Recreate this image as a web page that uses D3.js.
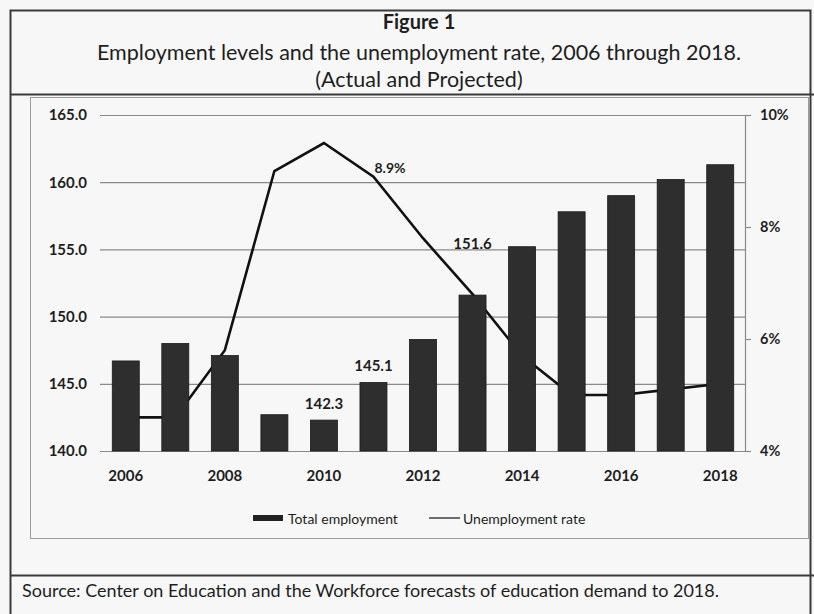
<!DOCTYPE html>
<html>
<head>
<meta charset="utf-8">
<script src="https://cdn.jsdelivr.net/npm/d3@7"></script>
<style>
  html, body { margin: 0; padding: 0; background: #f7f7f7; }
  svg { display: block; }
  text { font-family: Lato, "Open Sans", sans-serif; fill: #1e1e1e; }
</style>
</head>
<body>
<svg id="chart" width="814" height="614"></svg>
<script>
// Years on the category axis
const years = [2006, 2007, 2008, 2009, 2010, 2011, 2012, 2013, 2014, 2015, 2016, 2017, 2018];
// Total employment, millions (left axis)
const employment = [146.7, 148.0, 147.1, 142.7, 142.3, 145.1, 148.3, 151.6, 155.2, 157.8, 159.0, 160.2, 161.3];
// Unemployment rate, percent (right axis)
const unemployment = [4.6, 4.6, 5.8, 9.0, 9.5, 8.9, 7.8, 6.8, 5.7, 5.0, 5.0, 5.1, 5.2];
// Axis ticks
const leftTicks = [140, 145, 150, 155, 160, 165];
const rightTicks = [4, 6, 8, 10];
const yearLabels = [2006, 2008, 2010, 2012, 2014, 2016, 2018];
// Values called out on the chart
const barCallouts = [2010, 2011, 2013];
const rateCallouts = [2011];

const titleLines = [
  "Figure 1",
  "Employment levels and the unemployment rate, 2006 through 2018.",
  "(Actual and Projected)"
];
const sourceText = "Source: Center on Education and the Workforce forecasts of education demand to 2018.";

const svg = d3.select("#chart");

// Frames: outer figure box, title divider, inner chart area, source divider
const frame = svg.append("g").attr("fill", "none");
frame.append("rect").attr("x", 10.5).attr("y", 10.5).attr("width", 800).attr("height", 620)
  .attr("stroke", "#3a3a3a").attr("stroke-width", 2);
frame.append("line").attr("x1", 10).attr("x2", 814).attr("y1", 94.5).attr("y2", 94.5)
  .attr("stroke", "#3a3a3a").attr("stroke-width", 2);
frame.append("rect").attr("x", 30.5).attr("y", 97.5).attr("width", 778).attr("height", 441)
  .attr("stroke", "#9a9a9a").attr("stroke-width", 1);
frame.append("line").attr("x1", 10).attr("x2", 814).attr("y1", 575.5).attr("y2", 575.5)
  .attr("stroke", "#3a3a3a").attr("stroke-width", 2);

// Title block
const titleY = [21, 52, 79];
const titleSize = [20, 21.5, 21.5];
svg.append("g").selectAll("text").data(titleLines).join("text")
  .attr("x", 419).attr("y", (d, i) => titleY[i])
  .attr("text-anchor", "middle").attr("dominant-baseline", "central")
  .attr("font-size", (d, i) => titleSize[i]).attr("font-weight", (d, i) => i === 0 ? 700 : 400)
  .text(d => d);

// Scales
const x = d3.scaleBand().domain(years).range([101, 745]).paddingInner(0.455).paddingOuter(0.2275);
const yL = d3.scaleLinear().domain([140, 165]).range([451, 115]);
const yR = d3.scaleLinear().domain([4, 10]).range([451, 115]);
const cx = d => x(d) + x.bandwidth() / 2;

// Left axis with gridlines
const left = svg.append("g").attr("transform", "translate(101,0)")
  .call(d3.axisLeft(yL).tickValues(leftTicks).tickFormat(d3.format(".1f"))
    .tickSize(-644).tickPadding(14));
left.select(".domain").remove();
left.selectAll(".tick line").attr("stroke", "#8a8a8a").attr("stroke-width", 1.2)
  .attr("x1", -1);
left.selectAll(".tick text").attr("font-size", 15).attr("font-weight", 700)
  .attr("font-family", "Lato, sans-serif").attr("fill", "#1e1e1e");

// Right axis
const right = svg.append("g").attr("transform", "translate(745,0)")
  .call(d3.axisRight(yR).tickValues(rightTicks).tickFormat(d => d + "%")
    .tickSize(6).tickSizeOuter(0).tickPadding(9));
right.select(".domain").attr("stroke", "#8a8a8a").attr("stroke-width", 1.2);
right.selectAll(".tick line").attr("stroke", "#8a8a8a").attr("stroke-width", 1.2);
right.selectAll(".tick text").attr("font-size", 14.5).attr("font-weight", 700)
  .attr("font-family", "Lato, sans-serif").attr("fill", "#2a2a2a");

// Bottom axis (labels only, every other year)
const bottom = svg.append("g").attr("transform", "translate(0,451)")
  .call(d3.axisBottom(x).tickValues(yearLabels).tickSize(0).tickPadding(19));
bottom.select(".domain").remove();
bottom.selectAll(".tick text").attr("font-size", 15).attr("font-weight", 700)
  .attr("font-family", "Lato, sans-serif").attr("fill", "#1e1e1e");

// Unemployment rate line (behind the bars)
const rateLine = d3.line().x((d, i) => cx(years[i])).y(d => yR(d));
svg.append("path").datum(unemployment)
  .attr("d", rateLine).attr("fill", "none")
  .attr("stroke", "#111").attr("stroke-width", 2.6).attr("stroke-linejoin", "miter");

// Employment bars
svg.append("g").selectAll("rect").data(employment).join("rect")
  .attr("x", (d, i) => x(years[i]))
  .attr("y", d => yL(d))
  .attr("width", x.bandwidth())
  .attr("height", d => yL(140) - yL(d))
  .attr("fill", "#2e2e2e").attr("stroke", "#1a1a1a").attr("stroke-width", 0.8);

// Employment value labels
const barLift = { 2010: 17, 2011: 17, 2013: 52 };
svg.append("g").selectAll("text").data(barCallouts).join("text")
  .attr("x", d => cx(d))
  .attr("y", d => yL(employment[years.indexOf(d)]) - barLift[d])
  .attr("text-anchor", "middle").attr("dominant-baseline", "central")
  .attr("font-size", 15).attr("font-weight", 700)
  .text(d => employment[years.indexOf(d)].toFixed(1));

// Unemployment rate label
svg.append("g").selectAll("text").data(rateCallouts).join("text")
  .attr("x", d => cx(d) + 1)
  .attr("y", d => yR(unemployment[years.indexOf(d)]) - 9)
  .attr("text-anchor", "start").attr("dominant-baseline", "central")
  .attr("font-size", 14).attr("font-weight", 700)
  .text(d => unemployment[years.indexOf(d)].toFixed(1) + "%");

// Legend
const legend = svg.append("g").attr("transform", "translate(253,518)");
legend.append("rect").attr("x", 0).attr("y", -3).attr("width", 30).attr("height", 6).attr("fill", "#222");
legend.append("text").attr("x", 35).attr("y", 0).attr("dominant-baseline", "central")
  .attr("font-size", 14).text("Total employment");
legend.append("line").attr("x1", 176).attr("x2", 207).attr("y1", 0).attr("y2", 0)
  .attr("stroke", "#222").attr("stroke-width", 1.3);
legend.append("text").attr("x", 210).attr("y", 0).attr("dominant-baseline", "central")
  .attr("font-size", 14).text("Unemployment rate");

// Source note
svg.append("text").attr("x", 22).attr("y", 590).attr("dominant-baseline", "central")
  .attr("font-size", 18).text(sourceText);
</script>
</body>
</html>
